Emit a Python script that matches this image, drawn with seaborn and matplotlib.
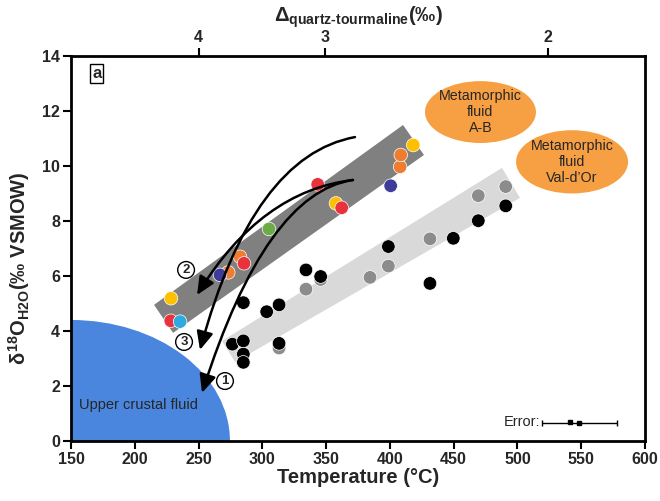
import matplotlib
matplotlib.use("Agg")
import matplotlib.pyplot as plt
import seaborn as sns
import numpy as np
import pandas as pd
from matplotlib.patches import Ellipse, Polygon, FancyArrowPatch
from matplotlib.path import Path

# ---------------- data ----------------
# coloured data (dark band)
col_T = [418.3, 408.0, 408.5, 400.6, 343.4, 357.7, 362.2, 305.2, 282.5, 285.6,
         273.3, 266.8, 228.4, 228.2, 235.5]
col_d18O = [10.76, 9.97, 10.40, 9.28, 9.33, 8.64, 8.48, 7.71, 6.70, 6.46,
            6.13, 6.04, 5.19, 4.37, 4.34]
col_group = ["yellow", "orange", "orange", "navy", "red", "yellow", "red", "green",
             "orange", "red", "orange", "navy", "yellow", "red", "cyan"]

# grey data (light band)
grey_T = [334.2, 345.7, 313.1, 384.4, 398.8, 431.4, 469.3, 490.8]
grey_d18O = [5.52, 5.87, 3.38, 5.95, 6.36, 7.35, 8.92, 9.25]

# black data (light band)
black_T = [334.2, 345.7, 285.1, 303.4, 313.1, 276.5, 285.1, 285.1, 285.1, 313.1,
           398.8, 431.4, 449.7, 469.3, 490.8]
black_d18O = [6.22, 5.98, 5.03, 4.70, 4.95, 3.52, 3.64, 3.16, 2.86, 3.55,
              7.07, 5.73, 7.37, 8.01, 8.55]

# bands (corners)
dark_band_T = [215.1, 230.0, 426.7, 410.3]
dark_band_d18O = [4.95, 3.93, 10.40, 11.49]
light_band_T = [268.4, 278.6, 502.0, 487.9]
light_band_d18O = [3.64, 2.87, 8.84, 9.93]

# upper crustal fluid field (quarter ellipse from origin corner)
crust_T0, crust_d0 = 150, 0
crust_T_radius, crust_d_radius = 124.6, 4.4

# metamorphic fluid fields
meta_labels = ["Metamorphic\nfluid\nA-B", "Metamorphic\nfluid\nVal-d\u2019Or"]
meta_T = [471.0, 542.8]
meta_d18O = [11.96, 10.15]
meta_w = [87.0, 87.8]
meta_h = [2.25, 2.3]

# fluid paths: start, control, end
path_labels = ["2", "3", "1"]
path_start = [(371.0, 9.49), (372.6, 11.05), (371.0, 9.49)]
path_ctrl = [(298.9, 9.09), (292.7, 10.38), (302.9, 9.04)]
path_end = [(248.8, 5.31), (251.1, 3.31), (252.7, 1.75)]
path_label_T = [240.2, 238.6, 270.7]
path_label_d = [6.22, 3.60, 2.18]

# error bar
err_T, err_d, err_half = 548.5, 0.64, 29.4
err_T2, err_d2 = 541.0, 0.70

# top axis (Delta quartz-tourmaline)
delta_T = [250, 349, 524]
delta_labels = ["4", "3", "2"]

x_ticks = list(range(150, 601, 50))
y_ticks = list(range(0, 15, 2))

palette = {"yellow": "#ffc000", "orange": "#ed7d31", "red": "#e8323c",
           "navy": "#3d3d99", "green": "#6aab46", "cyan": "#2eaae1",
           "grey": "#8c8c8c", "black": "#000000"}

# ---------------- style ----------------
sns.set_theme(style="ticks")
plt.rcParams["font.family"] = ["Liberation Sans", "DejaVu Sans"]
plt.rcParams["mathtext.fontset"] = "custom"
plt.rcParams["mathtext.rm"] = "Liberation Sans:bold"
plt.rcParams["mathtext.it"] = "Liberation Sans:bold"
plt.rcParams["mathtext.bf"] = "Liberation Sans:bold"

fig = plt.figure(figsize=(6.6, 5.01), dpi=100)
ax = fig.add_axes([0.1076, 0.1198, 0.8697, 0.7685])
ax.set_xlim(150, 600)
ax.set_ylim(0, 14)

# bands
ax.add_patch(Polygon(list(zip(light_band_T, light_band_d18O)), closed=True,
                     fc="#d9d9d9", ec="none", zorder=1))
ax.add_patch(Polygon(list(zip(dark_band_T, dark_band_d18O)), closed=True,
                     fc="#808080", ec="none", zorder=1))

# upper crustal fluid
ax.add_patch(Ellipse((crust_T0, crust_d0), 2 * crust_T_radius, 2 * crust_d_radius,
                     fc="#4a86de", ec="none", zorder=1))
ax.text(156, 1.3, "Upper crustal fluid", fontsize=10.5, ha="left", va="center", zorder=5)

# metamorphic fluids
for lab, t, d, w, h in zip(meta_labels, meta_T, meta_d18O, meta_w, meta_h):
    ax.add_patch(Ellipse((t, d), w, h, fc="#f7a043", ec="none", zorder=1))
    ax.text(t, d, lab, ha="center", va="center", fontsize=10.3, linespacing=1.2, zorder=5)

# points
df_lb = pd.DataFrame({"T": grey_T + black_T, "d": grey_d18O + black_d18O,
                      "g": ["grey"] * len(grey_T) + ["black"] * len(black_T)})
sns.scatterplot(data=df_lb, x="T", y="d", hue="g", palette=palette, s=95,
                edgecolor="white", linewidth=0.5, legend=False, ax=ax, zorder=3)
df_col = pd.DataFrame({"T": col_T, "d": col_d18O, "g": col_group})
sns.scatterplot(data=df_col, x="T", y="d", hue="g", palette=palette, s=95,
                edgecolor="white", linewidth=0.5, legend=False, ax=ax, zorder=3)

# paths
for s, c, e in zip(path_start, path_ctrl, path_end):
    p = Path([s, c, e], [Path.MOVETO, Path.CURVE3, Path.CURVE3])
    arr = FancyArrowPatch(path=p, arrowstyle="-|>,head_length=0.55,head_width=0.25",
                          mutation_scale=20, color="black", lw=1.8, zorder=4)
    ax.add_patch(arr)
for lab, t, d in zip(path_labels, path_label_T, path_label_d):
    ax.text(t, d, lab, ha="center", va="center", fontsize=9.5, fontweight="bold", zorder=6,
            bbox=dict(boxstyle="circle,pad=0.18", fc="white", ec="black", lw=1.0))

# error bar
ax.errorbar([err_T], [err_d], xerr=[err_half], fmt="s", ms=3, color="black",
            capsize=2.5, elinewidth=1, capthick=1, zorder=5)
ax.plot([err_T2], [err_d2], "s", ms=2.5, color="black", zorder=5)
ax.text(err_T - err_half - 1, err_d + 0.05, "Error:", ha="right", va="center", fontsize=10.5)

# panel label
ax.text(0.045, 0.955, "a", transform=ax.transAxes, fontsize=12, fontweight="bold",
        ha="center", va="center",
        bbox=dict(boxstyle="square,pad=0.12", fc="white", ec="black", lw=1.0))

# axes styling
ax.set_xticks(x_ticks)
ax.set_yticks(y_ticks)
for lab in ax.get_xticklabels() + ax.get_yticklabels():
    lab.set_fontweight("bold")
    lab.set_fontsize(11.5)
ax.tick_params(direction="out", length=6, width=1.5, color="black", pad=2,
               top=False, right=False)
for sp in ax.spines.values():
    sp.set_linewidth(2)
    sp.set_color("black")
    sp.set_visible(True)
ax.set_xlabel("Temperature (\u00b0C)", fontsize=14.5, fontweight="bold", labelpad=1)
ax.set_ylabel("$\\delta^{18}$O$_{\\mathregular{H2O}}$(\u2030 VSMOW)", fontsize=14.5,
              fontweight="bold")
ax.yaxis.set_label_coords(-0.068, 0.45)

ax2 = ax.twiny()
ax2.set_xlim(ax.get_xlim())
ax2.set_xticks(delta_T)
ax2.set_xticklabels(delta_labels, fontsize=11.5, fontweight="bold")
ax2.tick_params(direction="out", length=6, width=1.5, color="black", pad=2)
for sp in ax2.spines.values():
    sp.set_visible(False)
ax2.set_xlabel("$\\Delta_{\\mathregular{quartz\\text{-}tourmaline}}$(\u2030)", fontsize=14.5,
               fontweight="bold", labelpad=6)

fig.savefig("out.png", dpi=100)
